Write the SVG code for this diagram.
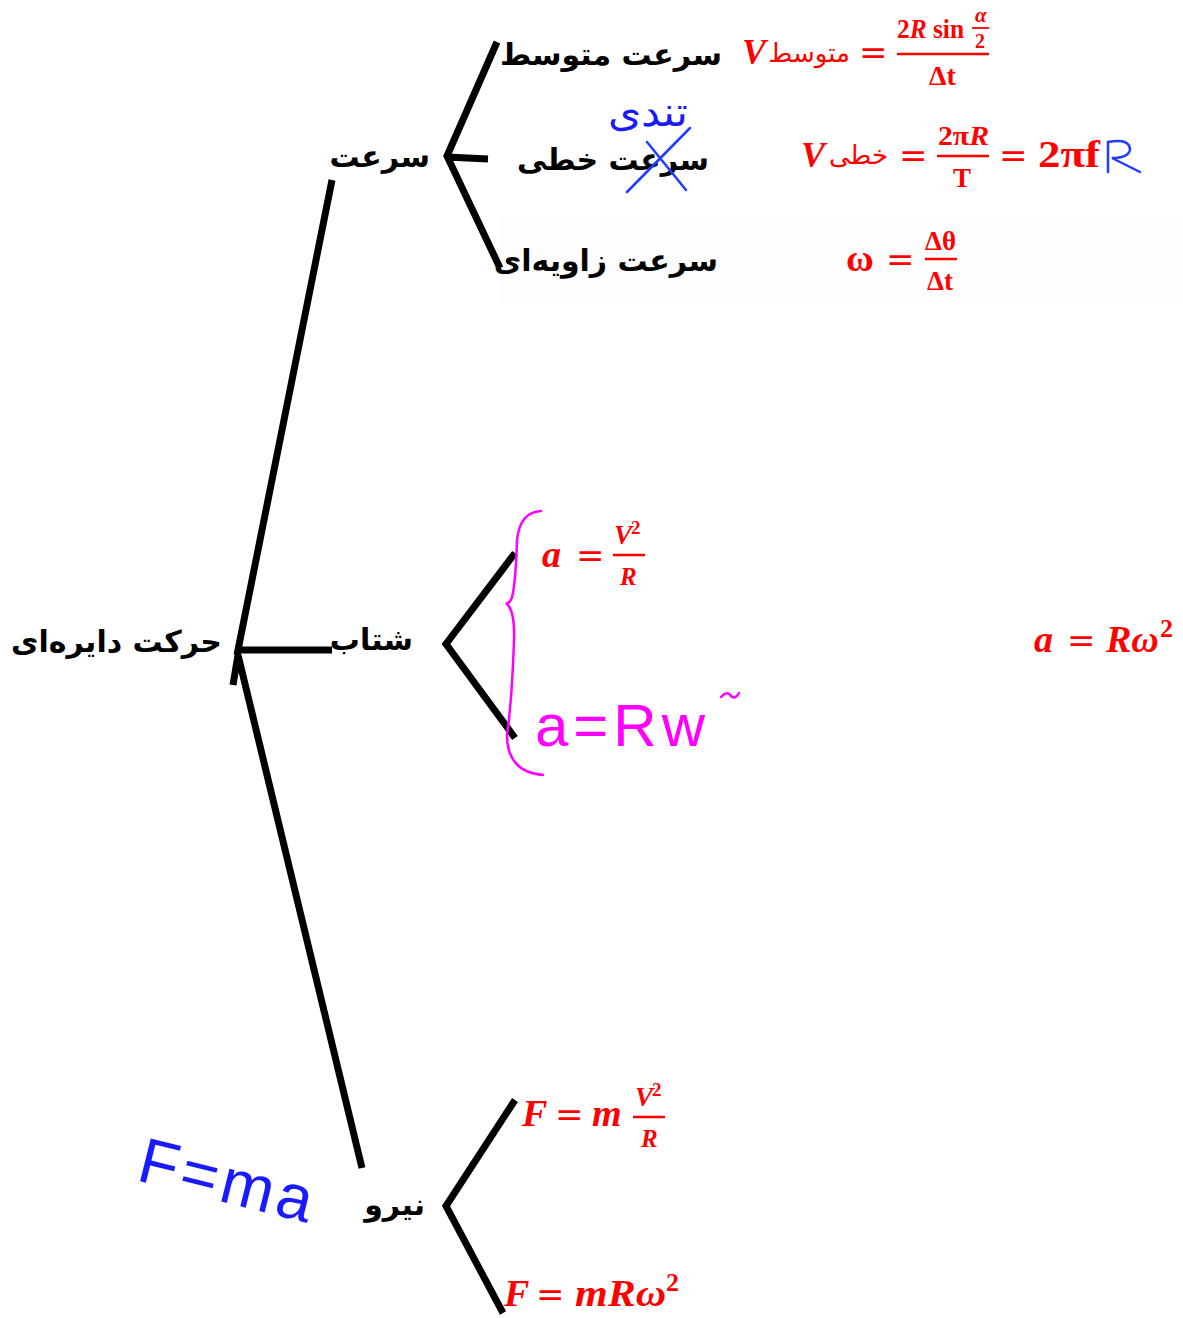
<svg xmlns="http://www.w3.org/2000/svg" width="1183" height="1318" viewBox="0 0 1183 1318">
<style>
.fa{font-family:"DejaVu Sans",sans-serif;font-weight:bold;fill:#000;font-size:30px}
.m{font-family:"Liberation Serif",serif;font-weight:bold;fill:#f00}
.mi{font-family:"Liberation Serif",serif;font-weight:bold;font-style:italic;fill:#f00}
.eq{font-family:"DejaVu Sans",sans-serif;font-weight:normal;fill:#f00;font-size:34px}
.fr{font-family:"DejaVu Sans",sans-serif;font-weight:normal;fill:#f00}
.br{stroke:#000;stroke-width:7;fill:none;stroke-linecap:butt;stroke-linejoin:miter}
.fl{stroke:#f00;stroke-width:2.5}
.hb{font-family:"Liberation Sans",sans-serif;fill:#1a1aff}
.ink-b{stroke:#1f3cff;stroke-width:2.5;fill:none;stroke-linecap:round}
.ink-m{stroke:#f0f;stroke-width:2.5;fill:none;stroke-linecap:round}
</style>
<rect width="1183" height="1318" fill="#fff"/>
<rect x="500" y="218" width="683" height="84" fill="#fdfdfd"/>
<g id="connectors">
<path class="br" d="M332,180 L237,655 M237,650 L332,650 M233,685 L238,655 L362,1168"/>
<path class="br" d="M497,42 L447,156 L500,268 M447,157 L488,159"/>
<path class="br" d="M515,553 L446,644 L515,738"/>
<path class="br" d="M515,1100 L446,1206 L503,1313"/>
</g>
<g id="root"><text class="fa" x="222" y="652" text-anchor="end" font-size="31">حرکت دایره‌ای</text></g>
<g id="velocity"><text class="fa" x="430" y="167" text-anchor="end">سرعت</text></g>
<g id="avg-velocity"><text class="fa" x="722" y="65" text-anchor="end" font-size="29">سرعت متوسط</text>
<text class="mi" x="742" y="64" font-size="36">V</text>
<text class="fr" x="850" y="62" text-anchor="end" font-size="26">متوسط</text>
<text class="eq" x="859" y="64">=</text>
<text class="mi" x="897" y="38" font-size="28" textLength="67" lengthAdjust="spacingAndGlyphs"><tspan font-style="normal">2</tspan>R <tspan font-style="normal">sin</tspan></text>
<text class="mi" x="975" y="22" font-size="21">α</text>
<line x1="972" y1="28" x2="989" y2="28" stroke="#f00" stroke-width="1.8"/>
<text class="m" x="975" y="48" font-size="20">2</text>
<line class="fl" x1="897" y1="54" x2="989" y2="54"/>
<text class="m" x="929" y="85" font-size="28">Δt</text>
</g>
<g id="linear-velocity"><text class="fa" x="709" y="170" text-anchor="end">سرعت خطی</text>
<text class="hb" x="608" y="126" font-size="40" font-family="DejaVu Sans" textLength="80" lengthAdjust="spacingAndGlyphs">تندی</text>
<path class="ink-b" d="M627,192 L690,128 M647,142 L686,190"/>
<text class="mi" x="801" y="167" font-size="36">V</text>
<text class="fr" x="888" y="164" text-anchor="end" font-size="26">خطی</text>
<text class="eq" x="899" y="167">=</text>
<text class="m" x="938" y="145" font-size="27" textLength="51" lengthAdjust="spacingAndGlyphs">2π<tspan font-style="italic">R</tspan></text>
<line class="fl" x1="937" y1="156" x2="989" y2="156"/>
<text class="m" x="953" y="187" font-size="27">T</text>
<text class="eq" x="999" y="167">=</text>
<text class="m" x="1038" y="167" font-size="38" textLength="62" lengthAdjust="spacingAndGlyphs">2πf</text>
<path class="ink-b" d="M1108,172 L1108,142 Q1130,138 1130,150 Q1128,158 1112,158 L1140,172"/>
</g>
<g id="angular-velocity"><text class="fa" x="718" y="271" text-anchor="end">سرعت زاویه‌ای</text>
<text class="m" x="846" y="271" font-size="38">ω</text>
<text class="eq" x="886" y="271">=</text>
<text class="m" x="925" y="250" font-size="27">Δθ</text>
<line class="fl" x1="925" y1="259" x2="957" y2="259"/>
<text class="m" x="927" y="290" font-size="27">Δt</text>
</g>
<g id="acceleration"><text class="fa" x="413" y="650" text-anchor="end">شتاب</text>
<path class="ink-m" d="M541,511 Q520,512 517,540 Q516,575 513,593 Q511,604 506,603 Q515,610 514,640 Q512,700 507,735 Q507,772 543,775"/>
<text class="mi" x="542" y="567" font-size="38">a</text>
<text class="eq" x="576" y="567">=</text>
<text class="mi" x="614" y="544" font-size="27">V</text>
<text class="m" x="631" y="534" font-size="19">2</text>
<line class="fl" x1="613" y1="555" x2="645" y2="555"/>
<text class="mi" x="620" y="585" font-size="25">R</text>
<text x="535" y="746" font-family="Liberation Sans,sans-serif" font-size="60" fill="#f0f" letter-spacing="10" textLength="180" lengthAdjust="spacing">a=Rw</text>
<path class="ink-m" d="M721,697 Q727,690 731,696 Q735,700 739,693"/>
<text class="mi" x="1034" y="652" font-size="38">a</text>
<text class="eq" x="1067" y="652">=</text>
<text class="mi" x="1106" y="652" font-size="38">Rω</text>
<text class="m" x="1160" y="637" font-size="26">2</text>
</g>
<g id="force"><text class="fa" x="425" y="1215" text-anchor="end">نیرو</text>
<text class="mi" x="522" y="1126" font-size="38">F</text>
<text class="eq" x="555" y="1126">=</text>
<text class="mi" x="592" y="1126" font-size="38">m</text>
<text class="mi" x="635" y="1106" font-size="27">V</text>
<text class="m" x="652" y="1096" font-size="19">2</text>
<line class="fl" x1="633" y1="1117" x2="665" y2="1117"/>
<text class="mi" x="641" y="1147" font-size="25">R</text>
<text class="mi" x="504" y="1306" font-size="38">F</text>
<text class="eq" x="536" y="1306">=</text>
<text class="mi" x="575" y="1306" font-size="38" textLength="91" lengthAdjust="spacingAndGlyphs">mRω</text>
<text class="m" x="666" y="1291" font-size="26">2</text>
<text class="hb" x="135" y="1180" font-size="64" transform="rotate(14 135 1180)" letter-spacing="4">F=ma</text>
</g>
</svg>
